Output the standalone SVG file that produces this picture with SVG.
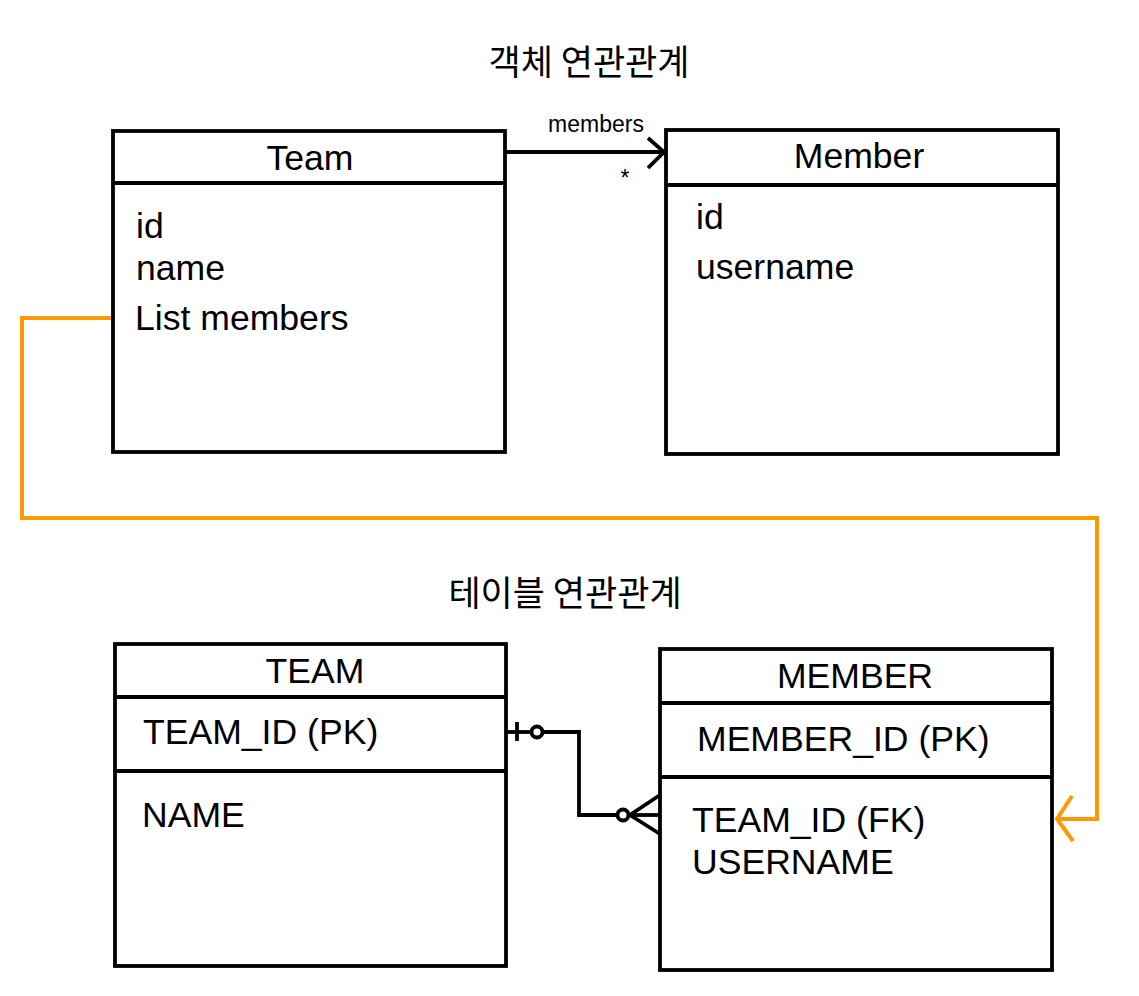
<svg xmlns="http://www.w3.org/2000/svg" width="1139" height="996" viewBox="0 0 1139 996">
<style>
  .box { fill: #ffffff; stroke: #000000; stroke-width: 3.8; }
  .sep { stroke: #000000; stroke-width: 3.8; fill: none; }
  .t { font-family: "Liberation Sans", Arial, sans-serif; font-size: 35.6px; fill: #000000; }
  .hd { text-anchor: middle; }
  .title { font-family: "Noto Sans CJK KR", "Noto Sans", sans-serif; font-size: 35px; fill: #000000; text-anchor: middle; }
  .lbl { font-family: "Liberation Sans", Arial, sans-serif; font-size: 23px; fill: #000000; text-anchor: middle; }
  .edge { fill: none; stroke: #000000; stroke-width: 3.8; }
  .orange { fill: none; stroke: #FF9900; stroke-width: 4; }
</style>
<rect width="1139" height="996" fill="#ffffff"/>

<text class="title" x="589" y="75">객체 연관관계</text>
<text class="title" x="565" y="606">테이블 연관관계</text>

<g id="connectors">
  <!-- Team -> Member association -->
  <path class="edge" d="M505,152 L664,152"/>
  <path class="edge" d="M648,138 L664,152 L648,168"/>
  <text class="lbl" x="596" y="132">members</text>
  <text class="lbl" x="625" y="186">*</text>
  <!-- orange mapping line -->
  <path class="orange" d="M113,318 L22,318 L22,518 L1097,518 L1097,819 L1057,819"/>
  <path class="orange" d="M1072,796 L1057,819 L1073,841"/>
  <!-- ER relation -->
  <path class="edge" d="M506,732 L531,732"/>
  <path class="edge" d="M543,732 L579,732 L579,815 L617,815"/>
  <line class="edge" x1="517" y1="722" x2="517" y2="741"/>
  <circle class="edge" cx="537" cy="732" r="5.5"/>
  <circle class="edge" cx="623" cy="815" r="5.5"/>
  <path class="edge" d="M629,815 L660,815"/>
  <path class="edge" d="M660,795 L630,815 L660,834"/>
</g>

<g id="node-team">
  <rect class="box" x="113" y="131" width="392" height="321"/>
  <line class="sep" x1="113" y1="183" x2="505" y2="183"/>
  <text class="t hd" x="310" y="170">Team</text>
  <text class="t" x="136" y="238">id</text>
  <text class="t" x="136" y="280">name</text>
  <text class="t" x="135" y="330">List members</text>
</g>

<g id="node-member">
  <rect class="box" x="666" y="130" width="392" height="324"/>
  <line class="sep" x1="666" y1="185" x2="1058" y2="185"/>
  <text class="t hd" x="859" y="168">Member</text>
  <text class="t" x="696" y="229">id</text>
  <text class="t" x="696" y="279">username</text>
</g>

<g id="node-team-table">
  <rect class="box" x="115" y="644" width="391" height="322"/>
  <line class="sep" x1="115" y1="697" x2="506" y2="697"/>
  <line class="sep" x1="115" y1="771" x2="506" y2="771"/>
  <text class="t hd" x="315" y="683">TEAM</text>
  <text class="t" x="143" y="744">TEAM_ID (PK)</text>
  <text class="t" x="142" y="827">NAME</text>
</g>

<g id="node-member-table">
  <rect class="box" x="660" y="649" width="392" height="321"/>
  <line class="sep" x1="660" y1="703" x2="1052" y2="703"/>
  <line class="sep" x1="660" y1="777" x2="1052" y2="777"/>
  <text class="t hd" x="855" y="688">MEMBER</text>
  <text class="t" x="697" y="751">MEMBER_ID (PK)</text>
  <text class="t" x="692" y="832">TEAM_ID (FK)</text>
  <text class="t" x="692" y="874">USERNAME</text>
</g>
</svg>
